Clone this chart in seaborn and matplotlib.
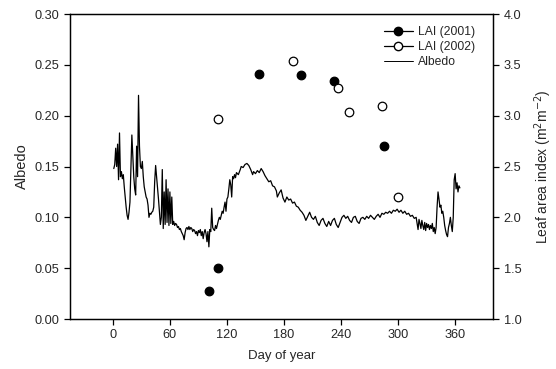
import matplotlib
matplotlib.use("Agg")
import matplotlib.pyplot as plt
from matplotlib.lines import Line2D
import seaborn as sns
import pandas as pd

# ---- data ----
alb_day = [1,2,3,4,5,6,7,8,9,10,11,12,13,14,15,16,17,18,19,20,21,22,23,24,25,26,27,28,29,30,
           31,32,33,34,35,36,37,38,39,40,41,42,43,44,45,46,47,48,49,50,51,52,53,54,55,56,57,58,59,60,
           61,62,63,64,65,66,67,68,69,70,71,72,73,74,75,76,77,78,79,80,81,82,83,84,85,86,87,88,89,90,
           91,92,93,94,95,96,97,98,99,100,101,102,103,104,105,106,107,108,109,110,111,112,113,114,115,
           116,117,118,119,120,121,122,123,124,125,126,127,128,129,130,132,134,135,137,139,141,143,145,
           147,148,150,152,154,156,158,160,162,164,166,168,170,172,173,175,177,179,181,183,185,187,189,
           191,193,195,197,199,201,203,205,207,209,211,213,215,217,219,221,223,225,227,229,231,233,235,
           237,239,241,243,245,247,249,251,253,255,257,259,261,263,265,267,269,271,273,275,277,279,281,
           283,285,287,289,291,293,295,297,299,301,303,305,307,309,311,313,315,317,319,320,321,322,323,
           324,325,326,327,328,329,330,331,332,333,334,335,336,337,338,339,340,341,342,343,344,345,346,
           347,348,349,350,351,352,353,354,355,356,357,358,359,360,361,362,363,364,365]
albedo = [0.148,0.152,0.168,0.150,0.172,0.137,0.183,0.140,0.145,0.138,0.142,0.130,0.120,0.110,0.102,
          0.098,0.105,0.115,0.150,0.181,0.160,0.140,0.128,0.122,0.170,0.140,0.220,0.170,0.150,0.148,
          0.155,0.140,0.130,0.125,0.120,0.118,0.112,0.100,0.104,0.103,0.105,0.106,0.110,0.135,0.151,
          0.140,0.128,0.118,0.105,0.093,0.100,0.147,0.089,0.125,0.093,0.137,0.095,0.128,0.092,0.125,
          0.094,0.120,0.093,0.096,0.092,0.094,0.093,0.090,0.091,0.088,0.089,0.086,0.084,0.082,0.078,
          0.085,0.089,0.090,0.088,0.091,0.088,0.090,0.089,0.086,0.088,0.087,0.084,0.086,0.082,0.087,
          0.085,0.088,0.082,0.086,0.079,0.085,0.088,0.084,0.076,0.086,0.071,0.088,0.086,0.109,0.090,
          0.088,0.087,0.092,0.089,0.093,0.097,0.100,0.098,0.102,0.106,0.104,0.110,0.115,0.106,0.118,
          0.120,0.128,0.137,0.132,0.120,0.140,0.138,0.142,0.139,0.144,0.142,0.147,0.150,0.149,0.152,
          0.153,0.151,0.147,0.142,0.145,0.143,0.146,0.144,0.148,0.145,0.141,0.138,0.135,0.136,0.131,
          0.130,0.126,0.120,0.124,0.127,0.119,0.115,0.120,0.117,0.118,0.114,0.115,0.111,0.110,0.107,
          0.105,0.102,0.097,0.101,0.105,0.100,0.098,0.101,0.095,0.092,0.097,0.099,0.094,0.091,0.096,
          0.092,0.097,0.099,0.093,0.090,0.095,0.100,0.102,0.099,0.101,0.097,0.095,0.100,0.101,0.096,
          0.094,0.099,0.100,0.098,0.101,0.099,0.102,0.100,0.098,0.101,0.103,0.100,0.104,0.103,0.105,
          0.104,0.106,0.104,0.107,0.106,0.108,0.105,0.107,0.104,0.106,0.103,0.104,0.101,0.102,0.099,
          0.100,0.094,0.088,0.098,0.094,0.089,0.097,0.092,0.088,0.095,0.087,0.094,0.090,0.093,0.088,
          0.092,0.089,0.094,0.086,0.090,0.084,0.090,0.110,0.125,0.118,0.110,0.112,0.104,0.106,0.100,
          0.092,0.087,0.083,0.081,0.090,0.094,0.100,0.092,0.086,0.100,0.137,0.143,0.128,0.134,0.125,
          0.131,0.129]

lai2001_day = [101, 111, 154, 198, 233, 285]
lai2001 = [1.28, 1.50, 3.41, 3.40, 3.34, 2.70]
lai2002_day = [111, 190, 237, 248, 283, 300]
lai2002 = [2.97, 3.54, 3.27, 3.04, 3.10, 2.20]

x_ticks = [0, 60, 120, 180, 240, 300, 360]
left_ticks = [0.00, 0.05, 0.10, 0.15, 0.20, 0.25, 0.30]
right_ticks = [1.0, 1.5, 2.0, 2.5, 3.0, 3.5, 4.0]

# ---- plot ----
sns.set_style("ticks")
plt.rcParams['font.family'] = ['Liberation Sans', 'DejaVu Sans']
plt.rcParams['xtick.direction'] = 'out'
plt.rcParams['ytick.direction'] = 'out'

fig = plt.figure(figsize=(5.56, 3.69), dpi=100)
ax = fig.add_axes([0.126, 0.1355, 0.761, 0.8265])

df_alb = pd.DataFrame({"day": alb_day, "albedo": albedo})
sns.lineplot(data=df_alb, x="day", y="albedo", ax=ax, color="black", lw=0.9, legend=False)
ax.set_xlim(-45, 400)
ax.set_ylim(0, 0.30)
ax.set_xticks(x_ticks)
ax.set_yticks(left_ticks)
ax.set_yticklabels([f"{v:.2f}" for v in left_ticks])
ax.set_xlabel("Day of year", fontsize=9.5, labelpad=6)
ax.set_ylabel("Albedo", fontsize=10.5, labelpad=4)
ax.tick_params(labelsize=9.2, length=4, width=0.9, color="black")

ax2 = ax.twinx()
df1 = pd.DataFrame({"day": lai2001_day, "lai": lai2001})
df2 = pd.DataFrame({"day": lai2002_day, "lai": lai2002})
sns.scatterplot(data=df1, x="day", y="lai", ax=ax2, color="black", edgecolor="black",
                s=38, linewidth=0.9, legend=False, zorder=3)
sns.scatterplot(data=df2, x="day", y="lai", ax=ax2, facecolor="white", edgecolor="black",
                s=38, linewidth=0.9, legend=False, zorder=3)
ax2.set_ylim(1.0, 4.0)
ax2.set_yticks(right_ticks)
ax2.set_yticklabels([f"{v:.1f}" for v in right_ticks])
ax2.set_ylabel("Leaf area index (m$^2$m$^{-2}$)", fontsize=10, labelpad=8)
ax2.tick_params(labelsize=9.2, length=4, width=0.9, color="black")

for a in (ax, ax2):
    for s in a.spines.values():
        s.set_linewidth(0.9)
        s.set_color("black")

handles = [
    Line2D([], [], color="black", lw=0.9, marker="o", markersize=6,
           markerfacecolor="black", markeredgecolor="black"),
    Line2D([], [], color="black", lw=0.9, marker="o", markersize=6,
           markerfacecolor="white", markeredgecolor="black"),
    Line2D([], [], color="black", lw=0.7),
]
leg = ax2.legend(handles, ["LAI (2001)", "LAI (2002)", "Albedo"], loc="upper right",
                 frameon=False, fontsize=8.7, handlelength=2.4, handletextpad=0.4,
                 labelspacing=0.25, borderaxespad=0.6, bbox_to_anchor=(0.985, 1.0))

fig.savefig("out.png", dpi=100)
